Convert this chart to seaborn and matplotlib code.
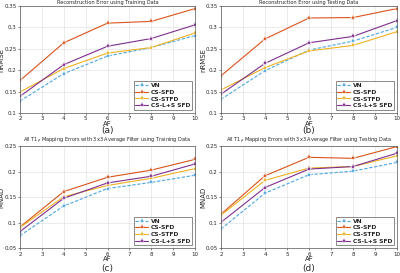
import pandas as pd
import numpy as np
import matplotlib
matplotlib.use("Agg")
import matplotlib.pyplot as plt
import seaborn as sns

# --- data ---
af = [2, 4, 6, 8, 10]
methods = ["VN", "CS-SFD", "CS-STFD", "CS-L+S SFD"]

rmse_train = {
    "VN":         [0.128, 0.192, 0.233, 0.253, 0.281],
    "CS-SFD":     [0.176, 0.264, 0.310, 0.314, 0.344],
    "CS-STFD":    [0.149, 0.204, 0.240, 0.253, 0.287],
    "CS-L+S SFD": [0.139, 0.213, 0.256, 0.274, 0.306],
}
rmse_test = {
    "VN":         [0.132, 0.199, 0.247, 0.268, 0.300],
    "CS-SFD":     [0.187, 0.273, 0.322, 0.323, 0.344],
    "CS-STFD":    [0.154, 0.206, 0.245, 0.258, 0.290],
    "CS-L+S SFD": [0.144, 0.216, 0.264, 0.279, 0.316],
}
mnad_train = {
    "VN":         [0.075, 0.133, 0.167, 0.179, 0.193],
    "CS-SFD":     [0.092, 0.161, 0.189, 0.203, 0.224],
    "CS-STFD":    [0.091, 0.151, 0.173, 0.187, 0.206],
    "CS-L+S SFD": [0.083, 0.148, 0.178, 0.191, 0.215],
}
mnad_test = {
    "VN":         [0.088, 0.158, 0.194, 0.201, 0.218],
    "CS-SFD":     [0.117, 0.192, 0.228, 0.226, 0.249],
    "CS-STFD":    [0.115, 0.183, 0.207, 0.210, 0.231],
    "CS-L+S SFD": [0.101, 0.169, 0.205, 0.210, 0.236],
}

titles = [
    "Reconstruction Error using Training Data",
    "Reconstruction Error using Testing Data",
    r"All T1$_\rho$ Mapping Errors with 3x3 Average Filter using Training Data",
    r"All T1$_\rho$ Mapping Errors with 3x3 Average Filter using Testing Data",
]
ylabels = ["nRMSE", "nRMSE", "MNAD", "MNAD"]
captions = ["(a)", "(b)", "(c)", "(d)"]

sns.set_theme(style="ticks")
plt.rcParams['font.family'] = ['DejaVu Sans']

palette = {"VN": "#4DA6E0", "CS-SFD": "#D95319", "CS-STFD": "#EDB120", "CS-L+S SFD": "#7E2F8E"}
dashes = {"VN": (3, 1.5), "CS-SFD": "", "CS-STFD": "", "CS-L+S SFD": ""}

fig = plt.figure(figsize=(4.0, 2.73), dpi=100)
positions = [
    [0.05, 0.586, 0.4375, 0.392],
    [0.5525, 0.586, 0.44, 0.392],
    [0.05, 0.09, 0.4375, 0.375],
    [0.5525, 0.09, 0.44, 0.375],
]
caption_y = [0.505, 0.505, 0.0, 0.0]
ylabel_x = [-0.088, -0.082, -0.088, -0.082]
datasets = [rmse_train, rmse_test, mnad_train, mnad_test]
ylims = [(0.1, 0.35), (0.1, 0.35), (0.05, 0.25), (0.05, 0.25)]
yticks = [[0.1, 0.15, 0.2, 0.25, 0.3, 0.35], [0.1, 0.15, 0.2, 0.25, 0.3, 0.35],
          [0.05, 0.1, 0.15, 0.2, 0.25], [0.05, 0.1, 0.15, 0.2, 0.25]]

for i, d in enumerate(datasets):
    ax = fig.add_axes(positions[i])
    rows = []
    for m in methods:
        for a, v in zip(af, d[m]):
            rows.append({"AF": a, "val": v, "Method": m})
    df = pd.DataFrame(rows)
    sns.lineplot(data=df, x="AF", y="val", hue="Method", style="Method",
                 palette=palette, dashes=dashes, markers={m: "*" for m in methods},
                 markersize=4, markeredgewidth=0.3, linewidth=0.8, ax=ax)
    ax.set_xlim(2, 10)
    ax.set_ylim(*ylims[i])
    ax.set_xticks(range(2, 11))
    ax.set_yticks(yticks[i])
    ax.set_yticklabels([f"{t:g}" for t in yticks[i]])
    ax.grid(True, color="#e3e3e3", linewidth=0.5)
    ax.tick_params(labelsize=4, length=1.5, width=0.4, pad=1.0)
    for s in ax.spines.values():
        s.set_linewidth(0.5)
        s.set_color("#555555")
    ax.set_title(titles[i], fontsize=3.6, pad=1.5)
    ax.set_ylabel(ylabels[i], fontsize=5)
    ax.yaxis.set_label_coords(ylabel_x[i], 0.5)
    ax.set_xlabel("AF", fontsize=5, labelpad=-0.5)
    leg = ax.legend(loc="lower right", fontsize=4.3, frameon=True, fancybox=False,
                    handlelength=2.2, borderpad=0.3, labelspacing=0.25, handletextpad=0.4)
    leg.get_frame().set_linewidth(0.5)
    leg.get_frame().set_edgecolor("#333333")
    for t in leg.get_texts():
        t.set_fontweight("bold")
    p = positions[i]
    fig.text(p[0] + p[2] / 2, caption_y[i], captions[i], ha="center", va="bottom", fontsize=6.5)

fig.savefig("out.png", dpi=100)
